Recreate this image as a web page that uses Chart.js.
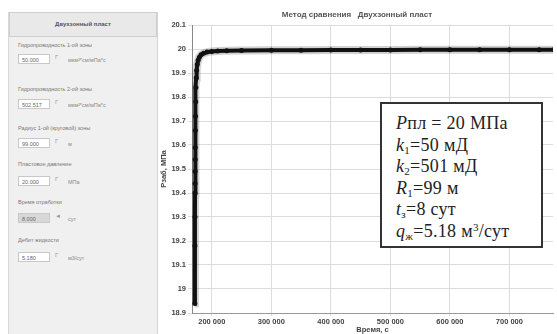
<!DOCTYPE html>
<html>
<head>
<meta charset="utf-8">
<script src="https://cdn.jsdelivr.net/npm/chart.js@4/dist/chart.umd.min.js"></script>
<style>
  html, body { margin: 0; padding: 0; background: #fff; }
  #wrap { position: relative; width: 557px; height: 334px; overflow: hidden; font-family: "Liberation Sans", Arial, sans-serif; }
  #panel { position: absolute; left: 8px; top: 12px; width: 148px; height: 322px; background: #f0f0f0; border-right: 1px solid #d4d4d4; border-left: 1px solid #d8d8d8; }
  #panel .head { position: absolute; left: 0; top: 0; width: 146px; height: 23px; background: #e9e9e9; border: 1px solid #cfcfcf; font-size: 6px; font-weight: bold; color: #555; text-align: center; line-height: 23px; }
  #panel .lbl { position: absolute; left: 9px; font-size: 5.5px; color: #777; white-space: nowrap; }
  #panel .inp { position: absolute; left: 9px; width: 32px; height: 10px; background: #fff; border: 1px solid #c8c8c8; font-size: 5.5px; color: #666; line-height: 10px; padding-left: 3px; box-sizing: border-box; }
  #panel .inp.dis { background: #d8d8d8; }
  #panel .mark { position: absolute; left: 46px; font-size: 6px; color: #999; }
  #panel .unit { position: absolute; left: 59px; font-size: 5.5px; color: #888; white-space: nowrap; }
  #chartBox { position: absolute; left: 157px; top: 0; width: 400px; height: 334px; }
  #note { position: absolute; left: 380px; top: 102px; width: 163px; height: 146px; box-sizing: border-box; background: #fff; border: 2px solid #333; font-family: "Liberation Serif", "Times New Roman", serif; font-size: 18px; letter-spacing: 0.3px; color: #222; padding: 9px 0 0 14px; line-height: 21.6px; white-space: nowrap; }
  #note i { font-style: italic; }
  #note sub { font-size: 11px; vertical-align: -3px; line-height: 0; }
  #note sup { font-size: 11px; vertical-align: 6px; line-height: 0; }
</style>
</head>
<body>
<div id="wrap">
  <div id="panel">
    <div class="head">Двухзонный пласт</div>

    <div class="lbl" style="top:30px">Гидропроводность 1-ой зоны</div>
    <div class="inp" style="top:42px">50.000</div>
    <div class="mark" style="top:42px">Г</div>
    <div class="unit" style="top:45px">мкм²*см/мПа*с</div>

    <div class="lbl" style="top:74px">Гидропроводность 2-ой зоны</div>
    <div class="inp" style="top:87px">502.517</div>
    <div class="mark" style="top:87px">Г</div>
    <div class="unit" style="top:90px">мкм²*см/мПа*с</div>

    <div class="lbl" style="top:113px">Радиус 1-ой (круговой) зоны</div>
    <div class="inp" style="top:126px">99.000</div>
    <div class="mark" style="top:126px">Г</div>
    <div class="unit" style="top:129px">м</div>

    <div class="lbl" style="top:149px">Пластовое давление</div>
    <div class="inp" style="top:164px">20.000</div>
    <div class="mark" style="top:164px">Г</div>
    <div class="unit" style="top:167px">МПа</div>

    <div class="lbl" style="top:187px">Время отработки</div>
    <div class="inp dis" style="top:201px">8.000</div>
    <div class="mark" style="top:201px">◄</div>
    <div class="unit" style="top:204px">сут</div>

    <div class="lbl" style="top:225px">Дебит жидкости</div>
    <div class="inp" style="top:240px">5.180</div>
    <div class="mark" style="top:240px">Г</div>
    <div class="unit" style="top:243px">м3/сут</div>
  </div>

  <div id="chartBox"><canvas id="c"></canvas></div>

  <div id="note">
    <div><i>P</i>пл = 20 МПа</div>
    <div><i>k</i><sub>1</sub>=50 мД</div>
    <div><i>k</i><sub>2</sub>=501 мД</div>
    <div><i>R</i><sub>1</sub>=99 м</div>
    <div><i>t</i><sub>з</sub>=8 сут</div>
    <div><i>q</i><sub>ж</sub>=5.18 м<sup>3</sup>/сут</div>
  </div>
</div>

<script>
// time, s
const timeSec = [171500, 171600, 171700, 171800, 171900, 172000, 172100, 172200, 172400,
  172600, 172900, 173300, 173800, 174500, 175500, 177000, 179000, 182000, 186000, 192000,
  200000, 210000, 225000, 250000, 300000, 350000, 400000, 450000, 500000, 550000, 600000,
  650000, 700000, 750000, 775000];
// bottomhole pressure, MPa
const pressure = [18.94, 19.18, 19.30, 19.40, 19.44, 19.49, 19.54, 19.59, 19.66,
  19.72, 19.78, 19.84, 19.88, 19.91, 19.935, 19.953, 19.966, 19.976, 19.982, 19.987,
  19.99, 19.992, 19.993, 19.994, 19.995, 19.995, 19.996, 19.996, 19.996, 19.997, 19.997,
  19.997, 19.997, 19.997, 19.997];

const xTicks = [200000, 300000, 400000, 500000, 600000, 700000];
const yTicks = [18.9, 19, 19.1, 19.2, 19.3, 19.4, 19.5, 19.6, 19.7, 19.8, 19.9, 20, 20.1];

const points = timeSec.map((t, i) => ({ x: t, y: pressure[i] }));
const fmtThousands = v => String(v).replace(/\B(?=(\d{3})+(?!\d))/g, " ");
const axisFont = { family: "Liberation Sans", size: 7.5, weight: "bold" };

new Chart(document.getElementById("c"), {
  type: "line",
  data: {
    datasets: [
      {
        data: points,
        borderColor: "#111",
        backgroundColor: "#111",
        borderWidth: 4,
        pointRadius: 2.5,
        pointBorderWidth: 0,
        tension: 0,
        order: 1
      },
      {
        // soft grey halo under the curve
        data: points,
        borderColor: "rgba(0,0,0,0.18)",
        borderWidth: 8,
        pointRadius: 0,
        tension: 0,
        order: 2
      }
    ]
  },
  options: {
    responsive: true,
    maintainAspectRatio: false,
    animation: false,
    layout: { padding: { left: 0, right: 0, top: 0, bottom: 0 } },
    plugins: {
      legend: { display: false },
      tooltip: { enabled: false },
      title: {
        display: true,
        text: "Метод сравнения   Двухзонный пласт",
        color: "#555",
        font: { family: "Liberation Sans", size: 8, weight: "bold" },
        padding: { top: 10, bottom: 5.4 }
      }
    },
    scales: {
      x: {
        type: "linear",
        min: 166700,
        max: 773300,
        afterBuildTicks: s => { s.ticks = xTicks.map(v => ({ value: v })); },
        afterFit: s => { s.height = 21; },
        grid: { color: "#dcdcdc", tickLength: 3, drawTicks: true },
        border: { color: "#999" },
        ticks: {
          color: "#444",
          font: axisFont,
          padding: 1,
          maxRotation: 0,
          callback: v => fmtThousands(v)
        },
        title: {
          display: true,
          text: "Время, с",
          color: "#444",
          font: axisFont,
          padding: { top: 0, bottom: 0 }
        }
      },
      y: {
        min: 18.9,
        max: 20.1,
        afterBuildTicks: s => { s.ticks = yTicks.map(v => ({ value: v })); },
        afterFit: s => { s.width = 35; },
        grid: { color: "#dcdcdc", tickLength: 4 },
        border: { color: "#888" },
        ticks: {
          color: "#444",
          font: axisFont,
          padding: 2,
          callback: v => String(v)
        },
        title: {
          display: true,
          text: "Рзаб, МПа",
          color: "#444",
          font: axisFont,
          padding: { top: 2, bottom: 0 }
        }
      }
    }
  }
});
</script>
</body>
</html>
